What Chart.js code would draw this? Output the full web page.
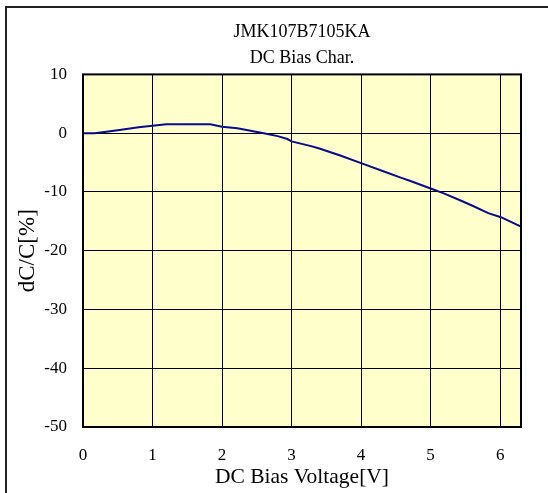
<!DOCTYPE html>
<html>
<head>
<meta charset="utf-8">
<script src="https://cdn.jsdelivr.net/npm/chart.js@4/dist/chart.umd.min.js"></script>
<style>
  html, body { margin: 0; padding: 0; background: #fff; }
  #wrap { width: 548px; height: 493px; }
</style>
</head>
<body>
<div id="wrap"><canvas id="chart" width="548" height="493"></canvas></div>
<script>
// DC bias curve
const voltages = [0, 0.17, 0.5, 0.8, 1.2, 1.5, 1.83, 2.0, 2.22, 2.41, 2.6, 2.8, 2.94, 3.0, 3.28, 3.4, 3.7, 4.0, 4.3, 4.58, 4.7, 5.02, 5.18, 5.44, 5.61, 5.83, 6.01, 6.3];
const dcBias = [0, 0, 0.5, 1.0, 1.5, 1.5, 1.5, 1.1, 0.85, 0.4, 0.0, -0.5, -1.0, -1.4, -2.2, -2.6, -3.8, -5.1, -6.4, -7.6, -8.1, -9.5, -10.2, -11.5, -12.4, -13.6, -14.3, -15.9];
const xTicks = [0, 1, 2, 3, 4, 5, 6];
const titleLines = ["JMK107B7105KA", "DC Bias Char."];
const xLabel = "DC Bias Voltage[V]";
const yLabel = "dC/C[%]";

const serif = "'Liberation Serif', 'Times New Roman', serif";

// cadre extérieur + fond jaune + bord du graphe
const plotFrame = {
    id: "plotFrame",
    beforeDraw(chart) {
        const { ctx, chartArea: a } = chart;
        ctx.save();
        ctx.strokeStyle = "#222";
        ctx.lineWidth = 2;
        ctx.beginPath();
        ctx.moveTo(6, 493);
        ctx.lineTo(6, 7);
        ctx.lineTo(548, 7);
        ctx.stroke();
        ctx.fillStyle = "#ffffcc";
        ctx.fillRect(a.left, a.top, a.right - a.left, a.bottom - a.top);
        ctx.restore();
    },
    afterDraw(chart) {
        const { ctx, chartArea: a } = chart;
        ctx.save();
        ctx.strokeStyle = "#000";
        ctx.lineWidth = 2;
        ctx.strokeRect(a.left, a.top, a.right - a.left, a.bottom - a.top);
        ctx.restore();
    }
};

new Chart(document.getElementById("chart"), {
    type: "line",
    data: {
        datasets: [{
            data: voltages.map((v, i) => ({ x: v, y: dcBias[i] })),
            borderColor: "#0a0a8c",
            borderWidth: 2,
            pointRadius: 0,
            tension: 0,
            fill: false
        }]
    },
    options: {
        responsive: false,
        animation: false,
        layout: { padding: { top: 8, left: 12, right: 27, bottom: 3 } },
        plugins: {
            legend: { display: false },
            tooltip: { enabled: false },
            title: {
                display: true,
                text: titleLines,
                fullSize: false,
                color: "#000",
                font: { family: serif, size: 18, weight: "normal", lineHeight: 1.4 },
                padding: { top: 12, bottom: 4 }
            }
        },
        scales: {
            x: {
                type: "linear",
                min: 0,
                max: 6.3,
                afterBuildTicks: s => { s.ticks = xTicks.map(v => ({ value: v })); },
                afterFit: s => { s.height = 63; },
                ticks: { color: "#000", padding: 18, maxRotation: 0, autoSkip: false,
                         font: { family: serif, size: 17 } },
                grid: { color: "#000", lineWidth: 1, drawTicks: false },
                border: { display: false },
                title: { display: true, text: xLabel, color: "#000",
                         font: { family: serif, size: 21.5 }, padding: { top: 1, bottom: 0 } }
            },
            y: {
                min: -50,
                max: 10,
                afterFit: s => { s.width = 71; },
                ticks: { stepSize: 10, color: "#000", padding: 16,
                         font: { family: serif, size: 17 } },
                grid: { color: "#000", lineWidth: 1, drawTicks: false },
                border: { display: false },
                title: { display: true, text: yLabel, color: "#000",
                         font: { family: serif, size: 23 }, padding: { top: 2, bottom: 4 } }
            }
        }
    },
    plugins: [plotFrame]
});
</script>
</body>
</html>
